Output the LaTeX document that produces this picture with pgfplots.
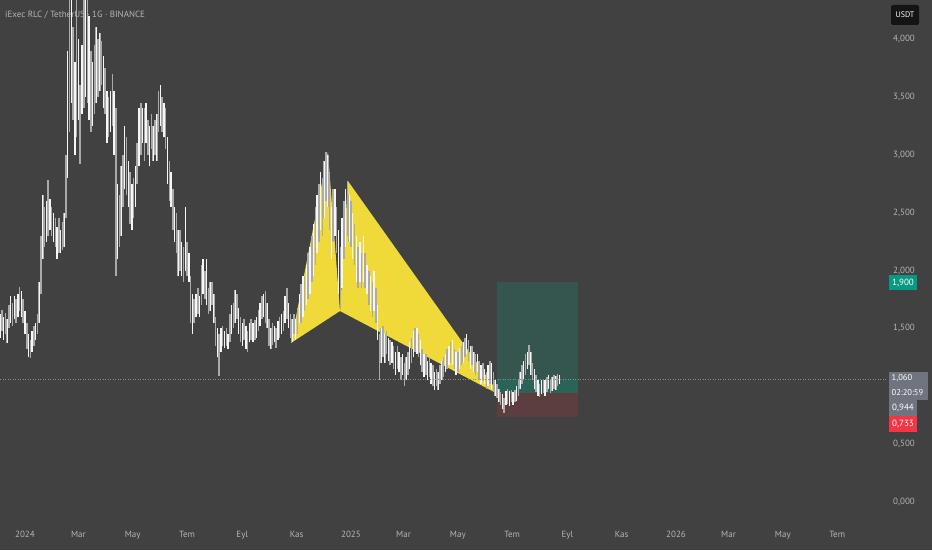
\documentclass[border=0pt]{standalone}
\usepackage{fontspec}
\setmainfont{PT Sans}
\usepackage{pgfplots}
\pgfplotsset{compat=1.18}
\usepackage{pgfplotstable}
\definecolor{bg}{RGB}{65,65,65}
\definecolor{txtgray}{RGB}{180,180,180}
\definecolor{candlegray}{RGB}{170,170,170}
\definecolor{candlewhite}{RGB}{246,246,246}
\definecolor{patyellow}{RGB}{240,218,58}
\definecolor{boxgreen}{RGB}{52,86,78}
\definecolor{boxgreenhi}{RGB}{42,99,87}
\definecolor{boxred}{RGB}{93,62,63}
\definecolor{lblteal}{RGB}{8,153,129}
\definecolor{lblgray}{RGB}{112,116,126}
\definecolor{lblred}{RGB}{242,54,69}
\definecolor{lblblack}{RGB}{20,20,20}
\definecolor{dotgray}{RGB}{140,140,140}

\pgfplotstableread{
d l h
-28 1.42 1.62
-26 1.48 1.66
-24 1.40 1.60
-22 1.45 1.63
-20 1.37 1.58
-18 1.50 1.70
-16 1.55 1.78
-14 1.52 1.72
-12 1.58 1.78
-10 1.55 1.75
-8 1.60 1.80
-6 1.65 1.86
-4 1.60 1.82
-2 1.55 1.75
0 1.45 1.65
2 1.32 1.55
4 1.25 1.45
6 1.24 1.40
8 1.30 1.48
10 1.35 1.52
12 1.40 1.55
14 1.45 1.62
16 1.55 1.90
18 1.80 2.30
20 2.10 2.65
22 2.20 2.55
24 2.25 2.60
26 2.30 2.78
28 2.35 2.62
30 2.30 2.55
32 2.25 2.50
34 2.20 2.45
36 2.10 2.38
38 2.15 2.45
40 2.15 2.35
42 2.18 2.42
44 2.20 2.50
46 2.45 3.00
48 2.80 3.90
50 3.20 4.34
52 3.45 4.34
54 3.30 4.10
56 3.00 3.80
58 3.15 4.34
60 3.30 4.00
62 2.92 3.60
64 3.35 3.95
66 3.40 4.34
68 3.50 4.34
70 3.45 4.34
72 3.30 4.20
74 3.20 3.90
76 3.25 3.80
78 3.35 3.95
80 3.45 4.10
82 3.50 4.00
84 3.55 4.05
86 3.60 3.98
88 3.40 3.85
90 3.35 3.75
92 3.10 3.55
94 3.15 3.50
96 3.20 3.55
98 3.25 3.70
100 3.00 3.55
102 1.95 3.40
104 2.10 2.75
106 2.20 2.65
108 2.30 2.90
110 2.55 3.00
112 2.70 3.25
114 2.65 3.15
116 2.55 2.95
118 2.40 2.85
120 2.35 2.75
122 2.45 2.80
124 2.55 2.90
126 2.75 3.10
128 2.90 3.40
130 3.00 3.45
132 3.10 3.40
134 2.95 3.40
136 3.10 3.45
138 3.00 3.30
140 2.90 3.25
142 3.05 3.35
144 2.95 3.25
146 3.00 3.30
148 2.95 3.35
150 3.20 3.55
152 3.25 3.60
154 3.20 3.50
156 3.15 3.45
158 3.05 3.40
160 2.75 3.15
162 2.60 2.95
164 2.55 2.85
166 2.35 2.70
168 2.25 2.55
170 2.15 2.50
172 1.95 2.35
174 2.00 2.35
176 1.95 2.25
178 1.90 2.20
180 2.00 2.55
182 1.95 2.25
184 1.90 2.15
186 1.55 1.95
188 1.45 1.80
190 1.55 1.75
192 1.60 1.80
194 1.62 1.85
196 1.60 1.78
198 1.70 2.05
200 1.80 2.10
202 1.75 2.00
204 1.70 2.10
206 1.62 1.85
208 1.65 1.90
210 1.70 1.90
212 1.55 1.80
214 1.35 1.60
216 1.25 1.50
218 1.09 1.45
220 1.30 1.50
222 1.35 1.52
224 1.33 1.48
226 1.35 1.50
228 1.32 1.45
230 1.38 1.62
232 1.45 1.70
234 1.50 1.72
236 1.55 1.83
238 1.58 1.80
240 1.45 1.68
242 1.38 1.60
244 1.35 1.55
246 1.40 1.58
248 1.32 1.52
250 1.30 1.48
252 1.38 1.55
254 1.40 1.58
256 1.38 1.55
258 1.40 1.57
260 1.42 1.60
262 1.48 1.66
264 1.52 1.72
266 1.58 1.78
268 1.60 1.80
270 1.55 1.82
272 1.50 1.72
274 1.35 1.58
276 1.32 1.50
278 1.36 1.55
280 1.38 1.52
282 1.33 1.50
284 1.40 1.56
286 1.42 1.60
288 1.45 1.62
290 1.48 1.65
292 1.55 1.78
294 1.58 1.85
296 1.50 1.72
298 1.42 1.62
300 1.38 1.58
302 1.45 1.62
304 1.40 1.58
306 1.45 1.68
308 1.55 1.80
310 1.55 1.88
312 1.60 1.95
314 1.65 1.95
316 1.70 2.05
318 1.75 2.15
320 1.80 2.20
322 1.90 2.30
324 1.95 2.40
326 2.05 2.55
328 2.15 2.65
330 2.25 2.75
332 2.35 2.85
334 2.30 2.80
336 2.45 2.95
338 2.60 3.02
340 2.55 3.00
342 2.35 2.85
344 2.10 2.55
346 2.25 2.70
348 2.30 2.70
350 2.15 2.55
352 1.80 2.35
354 1.66 2.20
356 1.85 2.45
358 2.10 2.60
360 2.20 2.70
362 2.30 2.77
364 2.25 2.65
366 2.20 2.60
368 2.10 2.50
370 2.05 2.40
372 1.90 2.30
374 1.85 2.20
376 1.90 2.25
378 1.85 2.15
380 1.90 2.30
382 1.85 2.15
384 1.80 2.05
386 1.70 2.00
388 1.65 1.95
390 1.60 1.90
392 1.65 2.00
394 1.55 1.85
396 1.40 1.70
398 1.05 1.45
400 1.20 1.50
402 1.25 1.52
404 1.20 1.45
406 1.28 1.48
408 1.22 1.42
410 1.18 1.40
412 1.20 1.38
414 1.15 1.35
416 1.10 1.30
418 1.15 1.35
420 1.12 1.30
422 1.05 1.25
424 1.10 1.28
426 1.00 1.20
428 1.05 1.25
430 1.10 1.30
432 1.15 1.38
434 1.20 1.42
436 1.25 1.48
438 1.30 1.50
440 1.28 1.50
442 1.25 1.45
444 1.18 1.40
446 1.12 1.32
448 1.08 1.28
450 1.10 1.28
452 1.05 1.22
454 1.08 1.25
456 1.02 1.20
458 1.00 1.18
460 0.97 1.12
462 1.00 1.15
464 0.97 1.12
466 1.02 1.18
468 1.05 1.22
470 1.08 1.25
472 1.12 1.28
474 1.15 1.32
476 1.18 1.35
478 1.20 1.38
480 1.18 1.40
482 1.15 1.32
484 1.10 1.30
486 1.12 1.30
488 1.15 1.33
490 1.18 1.35
492 1.20 1.38
494 1.25 1.42
496 1.28 1.45
498 1.22 1.40
500 1.15 1.35
502 1.18 1.35
504 1.12 1.30
506 1.10 1.28
508 1.12 1.28
510 1.05 1.22
512 1.02 1.18
514 1.05 1.20
516 1.02 1.15
518 0.98 1.12
520 1.00 1.18
522 1.02 1.22
524 0.98 1.20
526 0.95 1.12
528 0.92 1.05
530 0.90 1.02
532 0.86 0.98
534 0.84 0.95
536 0.80 0.93
538 0.77 0.90
540 0.84 0.96
542 0.85 0.98
544 0.83 0.96
546 0.86 0.97
548 0.84 0.95
550 0.86 0.97
552 0.87 1.00
554 0.92 1.06
556 0.98 1.12
558 1.02 1.18
560 1.05 1.22
562 1.10 1.28
564 1.15 1.30
566 1.18 1.36
568 1.10 1.30
570 1.05 1.20
572 0.98 1.15
574 0.95 1.10
576 0.92 1.05
578 0.91 1.02
580 0.93 1.05
582 0.94 1.06
584 0.92 1.05
586 0.95 1.08
588 0.98 1.10
590 0.94 1.06
592 0.96 1.08
594 0.98 1.10
596 0.97 1.09
598 1.00 1.11
600 1.02 1.10
}\candles

\begin{document}
\begin{tikzpicture}
\fill[bg] (0,0) rectangle (932pt,550pt);
\node[anchor=west, text=txtgray, font=\fontsize{9}{10}\selectfont, inner sep=0pt] at (5pt,535pt) {iExec RLC / TetherUS · 1G · BINANCE};
\begin{axis}[
  at={(0pt,32pt)}, anchor=south west,
  scale only axis, width=886pt, height=518pt,
  xmin=-28.07, xmax=966.8, ymin=-0.1382, ymax=4.337,
  axis line style={draw=none}, major tick length=0pt,
  xtick={0,60,121,182,244,305,366,425,486,547,609,670,731,790,851,912},
  xticklabels={2024,Mar,May,Tem,Eyl,Kas,2025,Mar,May,Tem,Eyl,Kas,2026,Mar,May,Tem},
  ytick={0,0.5,1.5,2,2.5,3,3.5,4},
  yticklabels={{0,000},{0,500},{1,500},{2,000},{2,500},{3,000},{3,500},{4,000}},
  yticklabel pos=right,
  /pgf/number format/assume math mode=true,
  yticklabel style={anchor=west, inner sep=0pt, xshift=7pt, text=txtgray, font=\fontsize{9}{10}\selectfont},
  xticklabel style={anchor=north, inner sep=0pt, yshift=-13pt, text=txtgray, font=\fontsize{9}{10}\selectfont},
]
% long position box
\addplot[fill=boxgreen, draw=none] coordinates {(529.9,0.944) (620.8,0.944) (620.8,1.9) (529.9,1.9)} --cycle;
\addplot[fill=boxgreenhi, draw=none] coordinates {(529.9,0.944) (620.8,0.944) (620.8,1.06) (529.9,1.06)} --cycle;
\addplot[fill=boxred, draw=none] coordinates {(529.9,0.733) (620.8,0.733) (620.8,0.944) (529.9,0.944)} --cycle;
% harmonic pattern XABCD
\addplot[fill=patyellow, draw=none] coordinates {(298.6,1.374) (340.2,3.024) (353.7,1.650)} --cycle;
\addplot[fill=patyellow, draw=none] coordinates {(353.7,1.650) (362.6,2.773) (533.3,0.924)} --cycle;
% candles (low-high)
\addplot[draw=candlegray, line width=1.5pt, quiver={u=0, v=\thisrow{h}-\thisrow{l}}] table[x=d, y=l] {\candles};
\addplot[draw=candlewhite, line width=1.3pt, each nth point=2, quiver={u=0, v=\thisrow{h}-\thisrow{l}}] table[x=d, y=l] {\candles};
% current price line
\addplot[draw=dotgray, line width=0.6pt, dash pattern=on 1pt off 1.5pt] coordinates {(-28.07,1.06) (966.8,1.06)};
\end{axis}
% right-side price labels
\fill[lblblack, rounded corners=2pt] (891pt,525pt) rectangle (919pt,545pt);
\node[text=white, font=\fontsize{8}{9}\selectfont, inner sep=0pt] at (905pt,535pt) {USDT};
\fill[lblteal] (889pt,260pt) rectangle (917pt,275pt);
\node[text=white, font=\fontsize{9}{10}\selectfont, inner sep=0pt] at (903pt,267.5pt) {1,900};
\fill[lblgray] (889pt,150pt) rectangle (928pt,178pt);
\node[text=white, font=\fontsize{8.5}{9}\selectfont, inner sep=0pt, anchor=west] at (891.5pt,171.5pt) {1,060};
\node[text=white, font=\fontsize{8.5}{9}\selectfont, inner sep=0pt, anchor=west] at (891.5pt,157.5pt) {02:20:59};
\fill[lblgray] (889pt,134pt) rectangle (917pt,150pt);
\node[text=white, font=\fontsize{9}{10}\selectfont, inner sep=0pt] at (903pt,142pt) {0,944};
\fill[lblred] (889pt,118pt) rectangle (917pt,134pt);
\node[text=white, font=\fontsize{9}{10}\selectfont, inner sep=0pt] at (903pt,126pt) {0,733};
\pgfresetboundingbox
\path[use as bounding box] (0,0) rectangle (932pt,550pt);
\end{tikzpicture}
\end{document}
